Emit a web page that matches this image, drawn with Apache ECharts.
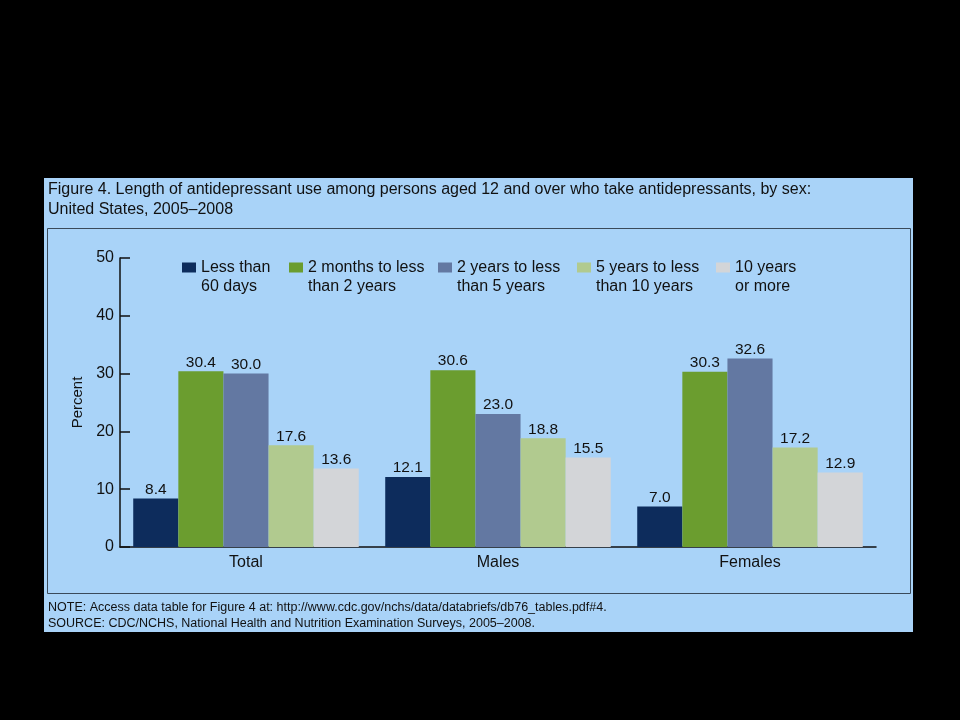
<!DOCTYPE html>
<html>
<head>
<meta charset="utf-8">
<script src="https://cdn.jsdelivr.net/npm/echarts@6/dist/echarts.min.js"></script>
<style>
    html, body { margin: 0; padding: 0; background: #000; }
    #chart { width: 960px; height: 720px; }
</style>
</head>
<body>
<div id="chart"></div>
<script>
// 数据
const categories = ['Total', 'Males', 'Females'];
const seriesNames = ['Less than 60 days', '2 months to less than 2 years', '2 years to less than 5 years', '5 years to less than 10 years', '10 years or more'];
const legendLines = [
    ['Less than', '60 days'],
    ['2 months to less', 'than 2 years'],
    ['2 years to less', 'than 5 years'],
    ['5 years to less', 'than 10 years'],
    ['10 years', 'or more']
];
const lessThan60Days = [8.4, 12.1, 7.0];
const months2To2Years = [30.4, 30.6, 30.3];
const years2To5 = [30.0, 23.0, 32.6];
const years5To10 = [17.6, 18.8, 17.2];
const years10OrMore = [13.6, 15.5, 12.9];
const yTicks = [0, 10, 20, 30, 40, 50];

const seriesValues = [lessThan60Days, months2To2Years, years2To5, years5To10, years10OrMore];
const colors = ['#0d2c5c', '#6b9d2f', '#6378a2', '#b1ca8f', '#d3d5d8'];
const legendLeft = [177, 284, 433, 572, 711];
const fontFamily = '"Liberation Sans", Arial, sans-serif';

const myChart = echarts.init(document.getElementById('chart'));

const option = {
    backgroundColor: '#000',
    color: colors,
    textStyle: { fontFamily: fontFamily },
    animation: false,
    graphic: [
        {
            type: 'rect', z: -10, silent: true,
            shape: { x: 44, y: 178, width: 869, height: 454 },
            style: { fill: '#a9d3f8' }
        },
        {
            type: 'rect', z: -9, silent: true,
            shape: { x: 47.5, y: 228.5, width: 863, height: 365 },
            style: { fill: 'none', stroke: '#3a4a5a', lineWidth: 1 }
        },
        {
            type: 'text', left: 48, top: 180,
            style: {
                text: 'Figure 4. Length of antidepressant use among persons aged 12 and over who take antidepressants, by sex:\nUnited States, 2005–2008',
                fill: '#111', font: '16px ' + fontFamily, lineHeight: 20
            }
        },
        {
            type: 'text', left: 48, top: 600,
            style: {
                text: 'NOTE: Access data table for Figure 4 at: http://www.cdc.gov/nchs/data/databriefs/db76_tables.pdf#4.\nSOURCE: CDC/NCHS, National Health and Nutrition Examination Surveys, 2005–2008.',
                fill: '#111', font: '12.5px ' + fontFamily, lineHeight: 16
            }
        }
    ],
    legend: seriesNames.map((name, i) => ({
        data: [name],
        left: legendLeft[i],
        top: 234,
        icon: 'rect',
        itemWidth: 14,
        itemHeight: 10,
        itemGap: 0,
        selectedMode: false,
        formatter: () => ' \n' + legendLines[i].join('\n'),
        textStyle: { fontSize: 16, color: '#111', lineHeight: 19, fontFamily: fontFamily }
    })),
    grid: { left: 120, right: 84, top: 258, bottom: 173 },
    xAxis: {
        type: 'category',
        data: categories,
        axisTick: { show: false },
        axisLine: { lineStyle: { color: '#111', width: 1.5 } },
        axisLabel: { color: '#111', fontSize: 16, margin: 8 }
    },
    yAxis: {
        type: 'value',
        min: yTicks[0],
        max: yTicks[yTicks.length - 1],
        interval: 10,
        name: 'Percent',
        nameLocation: 'middle',
        nameGap: 30,
        nameTextStyle: { color: '#111', fontSize: 15 },
        splitLine: { show: false },
        axisLine: { show: true, lineStyle: { color: '#111', width: 1.5 } },
        axisTick: { show: true, inside: true, length: 10, lineStyle: { color: '#111', width: 1.5 } },
        axisLabel: { color: '#111', fontSize: 16, margin: 6 }
    },
    series: seriesNames.map((name, i) => ({
        name: name,
        type: 'bar',
        data: seriesValues[i],
        barGap: '0%',
        barCategoryGap: '10.5%',
        itemStyle: { color: colors[i] },
        label: {
            show: true,
            position: 'top',
            distance: 1,
            color: '#111',
            fontSize: 15.5,
            formatter: (p) => p.value.toFixed(1)
        }
    }))
};

myChart.setOption(option);
</script>
</body>
</html>
